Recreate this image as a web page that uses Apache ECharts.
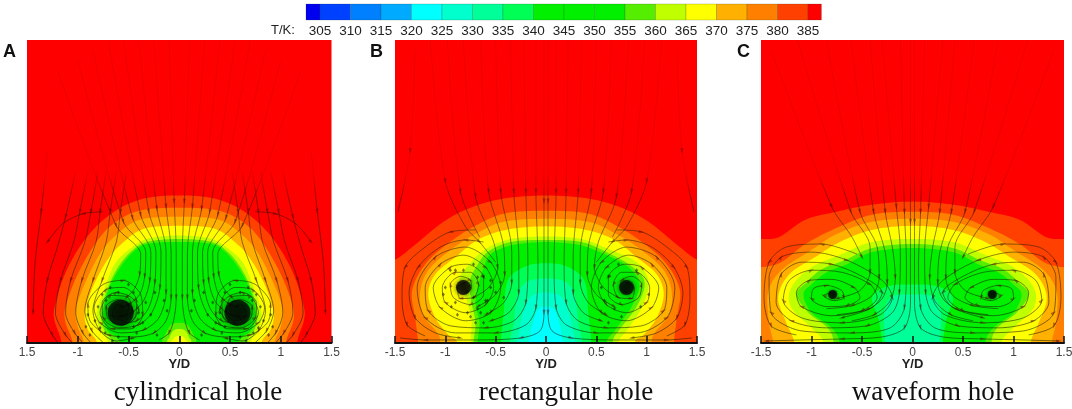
<!DOCTYPE html>
<html><head><meta charset="utf-8">
<style>html,body{margin:0;padding:0;background:#fff}#c{width:1072px;height:409px}</style>
<script src="https://cdn.jsdelivr.net/npm/echarts@6/dist/echarts.min.js"></script></head>
<body><div id="c"></div>
<script>
// ---------- colour bar ----------
const bandLow   = [300,305,310,315,320,325,330,335,340,345,350,355,360,365,370,375,380,385];
const bandColor = ['#0000f0','#0040ff','#0080ff','#00aaff','#00ffff','#00ffcc','#00ff99','#00ff55','#00f000','#00f000','#00f000','#55ee00','#c0ff00','#ffff00','#ffb000','#ff8000','#ff4000','#ff0000'];
const barTicks  = [305,310,315,320,325,330,335,340,345,350,355,360,365,370,375,380,385];
const ticksA = ['1.5','-1','-0.5','0','0.5','1','1.5'];
const ticksB = ['-1.5','-1','-0.5','0','0.5','1','1.5'];
const ticksC = ['-1.5','-1','-0.5','0','0.5','1','1.5'];
const captions = ['cylindrical hole','rectangular hole','waveform hole'];
const letters = ['A','B','C'];

// ---------- contour outlines, Y/D>0 half, top to base, [Y/D, Z/D] ----------
const A_380 = [[0,1.46],[.35,1.43],[.65,1.295],[.91,1.05],[1.11,.72],[1.22,.39],[1.23,.23],[1.16,0]];
const A_375 = [[0,1.34],[.39,1.31],[.65,1.18],[.83,.98],[1.01,.66],[1.12,.36],[1.12,.2],[1.05,0]];
const A_370 = [[0,1.25],[.39,1.22],[.62,1.07],[.78,.885],[.93,.59],[1.02,.33],[1.0,.16],[.94,0]];
const A_365 = [[0,1.16],[.35,1.13],[.57,.98],[.71,.82],[.85,.56],[.93,.3],[.9,.13],[.81,0]];
const A_360 = [[0,1.065],[.32,1.03],[.5,.92],[.63,.79],[.73,.56],[.81,.3],[.78,.13],[.7,0]];
const A_355 = [[0,1.03],[.32,1.0],[.48,.9],[.61,.74],[.71,.53],[.77,.3],[.74,.13],[.66,0]];
const A_350 = [[0,1.0],[.32,.98],[.47,.885],[.6,.72],[.7,.52],[.75,.3],[.71,.13],[.58,0]];
const A_mound355 = [[0,.2],[.08,.18],[.14,.08],[.17,0]];
const A_mound360 = [[0,.14],[.06,.12],[.1,.05],[.12,0]];
const A_mound365 = [[0,.07],[.04,.06],[.07,.02],[.08,0]];
const B_380 = [[0,1.46],[.42,1.43],[.75,1.34],[1.02,1.2],[1.28,.99],[1.5,.825],[1.7,.78],[1.7,0]];
const B_375 = [[0,1.31],[.42,1.28],[.72,1.15],[.98,.98],[1.2,.78],[1.33,.52],[1.3,.25],[1.27,0]];
const B_370 = [[0,1.23],[.42,1.2],[.7,1.08],[.95,.92],[1.17,.72],[1.25,.5],[1.22,.28],[1.08,.1],[1.05,0]];
const B_365 = [[0,1.155],[.4,1.12],[.68,1.02],[.9,.85],[1.1,.68],[1.17,.48],[1.1,.25],[.97,.08],[.88,0]];
const B_360 = [[-.75,0],[-.74,.2],[-.78,.4],[-.86,.62],[-.78,.76],[-.6,.93],[-.35,1.03],[0,1.055],[.35,1.03],[.62,.93],[.9,.8],[1.02,.6],[.95,.35],[.8,.12],[.72,0]];
const B_355 = [[-.72,0],[-.7,.2],[-.74,.4],[-.76,.6],[-.7,.74],[-.58,.9],[-.35,1.0],[0,1.02],[.35,1.0],[.6,.9],[.85,.76],[.98,.6],[.9,.36],[.72,.12],[.66,0]];
const B_350 = [[-.68,0],[-.66,.2],[-.7,.4],[-.66,.62],[-.62,.74],[-.55,.88],[-.33,.97],[0,1.0],[.33,.97],[.58,.88],[.82,.75],[.93,.58],[.85,.36],[.68,.12],[.6,0]];
const B_335 = [[0,.79],[.2,.76],[.38,.62],[.42,.3],[.45,0]];
const B_330 = [[0,.64],[.2,.6],[.29,.45],[.32,.2],[.36,0]];
const B_325 = [[0,.5],[.15,.46],[.23,.3],[.27,.1],[.29,0]];
const B_320 = [[0,.36],[.08,.33],[.13,.2],[.17,0]];
const C_380 = [[0,1.4],[.4,1.37],[.75,1.3],[1.06,1.22],[1.32,1.05],[1.5,1.03],[1.7,1.03],[1.7,0]];
const C_375 = [[0,1.3],[.4,1.27],[.75,1.14],[1.06,.98],[1.3,.8],[1.5,.75],[1.7,.75],[1.7,0]];
const C_370 = [[0,1.23],[.4,1.2],[.75,1.08],[1.0,.92],[1.3,.72],[1.43,.5],[1.42,.2],[1.38,0]];
const C_365 = [[0,1.16],[.4,1.12],[.72,1.0],[.95,.86],[1.22,.68],[1.33,.45],[1.25,.2],[1.17,0]];
const C_360 = [[0,1.03],[.4,1.0],[.7,.88],[1.0,.75],[1.2,.55],[1.2,.35],[1.0,.15],[.88,0]];
const C_355 = [[0,.98],[.4,.94],[.67,.82],[.9,.73],[1.05,.6],[1.15,.48],[1.03,.3],[.84,.15],[.78,0]];
const C_350 = [[0,.94],[.4,.9],[.65,.78],[.85,.7],[1.0,.58],[1.08,.48],[1.0,.3],[.8,.15],[.72,0]];
const C_335 = [[0,.58],[.25,.56],[.4,.45],[.34,.25],[.3,0]];
const C_330 = [[0,.48],[.2,.46],[.28,.3],[.27,0]];

// [band, outline, outline covers only the Y/D>0 half]
const contoursA = [[380,A_380,1],[375,A_375,1],[370,A_370,1],[365,A_365,1],[360,A_360,1],[355,A_355,1],[350,A_350,1],[355,A_mound355,1],[360,A_mound360,1],[365,A_mound365,1]];
const contoursB = [[380,B_380,1],[375,B_375,1],[370,B_370,1],[365,B_365,1],[360,B_360,0],[355,B_355,0],[350,B_350,0],[335,B_335,1],[330,B_330,1],[325,B_325,1],[320,B_320,1]];
const contoursC = [[380,C_380,1],[375,C_375,1],[370,C_370,1],[365,C_365,1],[360,C_360,1],[355,C_355,1],[350,C_350,1],[335,C_335,1],[330,C_330,1]];

// ---------- streamlines, Y/D>0 half ----------
const streamA = [
 [[.1,3],[.05,1.4],[.03,.9],[.03,.45],[.05,.25],[.1,.1],[.2,.03]],
 [[.25,3],[.13,1.35],[.08,.9],[.08,.45],[.13,.22],[.25,.1],[.45,.06],[.7,.08],[.88,.22],[.9,.38],[.75,.58],[.55,.62],[.38,.48],[.36,.28],[.48,.14],[.66,.14],[.78,.3],[.68,.47],[.52,.46],[.46,.32],[.54,.22],[.66,.27],[.62,.38],[.55,.36]],
 [[.4,3],[.22,1.33],[.13,.9],[.13,.5],[.2,.25],[.35,.13],[.58,.1],[.78,.2],[.84,.35],[.72,.53],[.55,.55],[.42,.42],[.43,.26],[.56,.18],[.7,.24],[.72,.36],[.6,.43],[.5,.37],[.52,.27],[.6,.26]],
 [[.55,3],[.3,1.3],[.18,.9],[.19,.55],[.27,.3],[.4,.18],[.6,.15],[.75,.25],[.76,.4],[.62,.5],[.47,.45],[.4,.33],[.48,.2]],
 [[.7,3],[.38,1.27],[.23,.9],[.24,.6],[.3,.35],[.42,.22],[.58,.2]],
 [[.85,2.9],[.46,1.24],[.28,.9],[.29,.62],[.35,.42],[.47,.3],[.58,.27]],
 [[1.0,2.8],[.55,1.2],[.33,.9],[.34,.66],[.39,.48],[.5,.38],[.58,.35]],
 [[1.2,2.7],[.62,1.16],[.38,.88],[.39,.68],[.44,.54],[.52,.45]],
 [[.52,1.7],[.58,1.3],[.62,1.0],[.76,.62],[.85,.32],[.78,.12],[.62,.02],[.45,.05]],
 [[.62,1.7],[.68,1.3],[.72,1.0],[.85,.62],[.93,.32],[.86,.12],[.72,-.02]],
 [[.72,1.7],[.78,1.3],[.82,1.0],[.96,.62],[1.02,.3],[.95,.1],[.82,-.05]],
 [[.8,1.7],[.87,1.3],[.93,1.0],[1.07,.62],[1.12,.3],[1.03,.1],[.9,-.05]],
 [[.9,1.7],[.98,1.3],[1.04,1.0],[1.17,.62],[1.22,.3],[1.12,.08],[1.0,-.05]],
 [[1.02,1.7],[1.12,1.25],[1.2,.95],[1.3,.62],[1.34,.3],[1.25,.08],[1.15,-.05]],
 [[1.3,1.9],[1.36,1.3],[1.42,.8],[1.44,.3]],
 [[.75,1.3],[.95,1.28],[1.15,1.18],[1.3,1.0]]
];
const streamB = [
 [[.02,3],[.02,1.4],[.02,.7],[.02,.3],[.06,.12],[.25,.05],[.7,.03],[1.2,.03],[1.45,.05]],
 [[.1,3],[.1,1.5],[.08,.8],[.1,.35],[.2,.18],[.5,.1],[.9,.1],[1.2,.25],[1.28,.55],[1.1,.85],[.8,.95],[.55,.8],[.45,.55],[.55,.3],[.8,.22],[1.05,.35],[1.12,.55],[.95,.75],[.78,.78],[.62,.65],[.62,.48],[.75,.38],[.92,.45],[.95,.58],[.85,.66],[.75,.62],[.74,.54],[.8,.5]],
 [[.22,3],[.2,1.5],[.18,.8],[.2,.4],[.32,.22],[.6,.15],[.95,.17],[1.17,.32],[1.2,.55],[1.05,.78],[.82,.87],[.6,.75],[.52,.55],[.6,.38],[.8,.3],[1.0,.4],[1.03,.55],[.9,.7],[.75,.7],[.67,.58],[.72,.45],[.85,.44],[.88,.55],[.8,.6]],
 [[.35,3],[.32,1.5],[.27,.85],[.27,.5],[.37,.3],[.55,.22]],
 [[.5,3],[.45,1.5],[.34,.9],[.34,.6],[.42,.4],[.6,.28]],
 [[.65,3],[.57,1.5],[.42,.95],[.41,.68],[.5,.48],[.68,.36]],
 [[.82,3],[.7,1.45],[.52,1.0],[.48,.75],[.57,.55],[.72,.45]],
 [[.98,3],[.85,1.5],[.66,1.05]],
 [[1.15,3],[1.0,1.6],[.8,1.15],[.66,1.0],[.5,.8]],
 [[.62,1.0],[.8,1.02],[1.05,.95],[1.27,.75],[1.36,.5],[1.3,.25],[1.1,.1],[.85,.05]],
 [[.7,1.12],[.95,1.1],[1.2,.95],[1.4,.75],[1.43,.45],[1.38,.18],[1.2,.07]],
 [[1.3,2.9],[1.35,1.9],[1.47,1.3]]
];
const streamC = [
 [[.02,3],[.02,1.2],[.02,.4],[.08,.15],[.3,.06],[.7,.04],[1.1,.03],[1.45,.02]],
 [[.12,3],[.08,1.3],[.06,.8],[.08,.35],[.22,.15],[.6,.1],[1.1,.12],[1.4,.3],[1.42,.65],[1.3,.85],[1.0,.9],[.65,.82],[.3,.62],[.2,.45],[.32,.28],[.7,.2],[1.1,.25],[1.28,.42],[1.22,.62],[1.0,.72],[.7,.7],[.42,.58],[.35,.45],[.5,.32],[.8,.27],[1.1,.36],[1.15,.5],[1.02,.62],[.8,.63],[.58,.55],[.52,.45],[.65,.37],[.85,.36],[1.0,.44],[.98,.54],[.85,.57],[.7,.52],[.68,.45],[.78,.42],[.88,.47],[.8,.5]],
 [[.3,3],[.16,1.35],[.12,.9],[.13,.5],[.2,.3],[.45,.17],[.85,.15],[1.2,.22],[1.35,.4],[1.3,.68],[1.1,.8],[.8,.78],[.5,.66],[.3,.5],[.4,.35],[.7,.25]],
 [[.42,3],[.27,1.3],[.2,.95],[.17,.65],[.22,.42],[.38,.28],[.6,.22]],
 [[.61,3],[.385,1.3],[.27,.9],[.25,.6],[.3,.44],[.45,.33],[.75,.28]],
 [[.85,3],[.52,1.3],[.35,.95],[.33,.65],[.4,.47],[.6,.37],[.85,.34]],
 [[1.14,3],[.61,1.3],[.42,.95],[.42,.7],[.52,.52],[.75,.44]],
 [[1.4,2.9],[.8,1.35],[.6,1.05],[.5,.85]],
 [[.55,.88],[.9,.98],[1.25,.95],[1.42,.8],[1.47,.45],[1.4,.17],[1.15,.08]]
];
// vortex core positions [Y/D, Z/D]
const coresA = [[-.577,.3],[.574,.3]];
const coresB = [[-.82,.55],[.8,.55]];
const coresC = [[-.79,.48],[.79,.48]];
// scattered arrow marks near the vortices, Y/D>0 half
const debrisA = [[.33,.4],[.36,.2],[.42,.1],[.45,.5],[.5,.58],[.68,.55],[.76,.48],[.8,.36],[.83,.22],[.73,.1],[.6,.06],[.28,.28],[.24,.5],[.12,.32],[.15,.42],[.4,.3],[.72,.42],[.78,.15],[.9,.28],[.92,.16],[.88,.08],[.66,.02],[.22,.08],[.6,.5],[.45,.16]];
const debrisB = [[.58,.42],[.62,.66],[.72,.78],[.9,.72],[1.02,.48],[.94,.36],[.75,.26],[.62,.2],[.55,.55],[.68,.34]];
const debrisBLeft = [[-.45,.6],[-.5,.5],[-.6,.42],[-.65,.3],[-.7,.2],[-.72,.45],[-.9,.4],[-1.0,.55],[-.95,.72],[-.82,.72],[-.68,.65],[-.55,.62],[-.42,.45],[-.78,.3],[-.88,.28]];

const mirrorLine = l => l.map(p => [-p[0], p[1]]);
const outline = (pts, half) => {
  const full = half ? pts.slice(1).reverse().map(p => [-p[0], p[1]]).concat(pts) : pts;
  const a = full[0], b = full[full.length-1];
  return [[a[0], -.3]].concat(full, [[b[0], -.3]]);
};
const colorOf = t => bandColor[bandLow.indexOf(t)];
// rendering only: turn pixel vertices into a rounded outline
const rounded = pts => {
  const out = [];
  for (let i = 0; i < pts.length - 1; i++) {
    const p0 = pts[Math.max(i-1,0)], p1 = pts[i], p2 = pts[i+1], p3 = pts[Math.min(i+2,pts.length-1)];
    for (let s = 0; s < 8; s++) {
      const t = s/8, t2 = t*t, t3 = t2*t;
      out.push([0,1].map(k => .5*(2*p1[k]+(p2[k]-p0[k])*t+(2*p0[k]-5*p1[k]+4*p2[k]-p3[k])*t2+(3*p1[k]-p0[k]-3*p2[k]+p3[k])*t3)));
    }
  }
  out.push(pts[pts.length-1]);
  return out;
};

const panels = [
 {left:27, width:304.5, contours:contoursA, stream:streamA, cores:coresA, core:26, ticks:ticksA, debris:debrisA.concat(mirrorLine(debrisA))},
 {left:395,width:302,   contours:contoursB, stream:streamB, cores:coresB, core:15, ticks:ticksB, debris:debrisB.concat(mirrorLine(debrisB),debrisBLeft)},
 {left:761,width:303,   contours:contoursC, stream:streamC, cores:coresC, core:9,  ticks:ticksC, debris:[]}
];

const lineStroke = {type:'linear',x:0,y:40,x2:0,y2:343,global:true,colorStops:[
  {offset:0,color:'rgba(110,0,0,.16)'},{offset:.44,color:'rgba(90,0,0,.2)'},
  {offset:.52,color:'rgba(40,20,0,.7)'},{offset:1,color:'rgba(15,25,0,.8)'}]};
const arrowFill = {type:'linear',x:0,y:40,x2:0,y2:343,global:true,colorStops:[
  {offset:0,color:'rgba(90,0,0,.55)'},{offset:.44,color:'rgba(90,0,0,.6)'},
  {offset:.52,color:'rgba(30,20,0,.85)'},{offset:1,color:'rgba(15,25,0,.9)'}]};

const grids=[], xAxes=[], yAxes=[], series=[], graphic=[];
const captionX=[198,566,933], letterX=[3,370,737];
panels.forEach((p,i)=>{
  grids.push({left:p.left,width:p.width,top:40,height:303,show:true,backgroundColor:colorOf(385),borderWidth:0,outerBoundsMode:'none'});
  xAxes.push({gridIndex:i,type:'value',min:-1.5,max:1.5,interval:.5,z:10,
    name:'Y/D',nameLocation:'middle',nameGap:15,nameMoveOverlap:false,nameTextStyle:{fontFamily:'Liberation Sans',fontWeight:'bold',fontSize:13,color:'#222'},
    axisLine:{show:true,onZero:false,lineStyle:{color:'#111',width:2}},
    axisTick:{show:true,inside:true,length:7,lineStyle:{color:'#111',width:1.5}},
    splitLine:{show:false},
    axisLabel:{margin:4,hideOverlap:false,fontFamily:'Liberation Sans',fontSize:12,color:'#444',showMinLabel:true,showMaxLabel:true,
      formatter:(v)=>p.ticks[Math.round((v+1.5)*2)]}});
  yAxes.push({gridIndex:i,type:'value',min:0,max:3,show:false,splitLine:{show:false}});
  const shapes=p.contours.map(c=>outline(c[1],c[2]));
  series.push({type:'custom',xAxisIndex:i,yAxisIndex:i,z:1,clip:true,silent:true,
    data:p.contours.map(c=>[0,0,c[0]]),
    renderItem:(params,api)=>({type:'polygon',
      shape:{points:rounded(shapes[params.dataIndex].map(q=>api.coord(q)))},
      style:{fill:colorOf(api.value(2))}})});
  const all=p.stream.concat(p.stream.map(mirrorLine));
  const lineData=[]; const arrows=[];
  all.forEach(l=>{
    l.forEach((q,k)=>{
      lineData.push(q);
      if(k>0&&k%2===1&&q[1]>0){const r=l[k-1];arrows.push([q[0],q[1],Math.atan2(-(q[0]-r[0]),(q[1]-r[1]))*180/Math.PI]);}
    });
    lineData.push(['-','-']);
  });
  series.push({type:'line',xAxisIndex:i,yAxisIndex:i,z:2,silent:true,data:lineData,showSymbol:false,smooth:.3,connectNulls:false,
    lineStyle:{color:lineStroke,width:.7}});
  series.push({type:'scatter',xAxisIndex:i,yAxisIndex:i,z:3,silent:true,data:arrows,symbol:'triangle',symbolSize:[3,6],
    symbolRotate:v=>v[2],itemStyle:{color:arrowFill}});
  if(p.debris.length) series.push({type:'scatter',xAxisIndex:i,yAxisIndex:i,z:3,silent:true,data:p.debris,symbol:'diamond',symbolSize:[3,4],itemStyle:{color:'rgba(20,20,0,.7)'}});
  series.push({type:'scatter',xAxisIndex:i,yAxisIndex:i,z:4,silent:true,data:p.cores,symbolSize:p.core,itemStyle:{color:'#050505',shadowBlur:p.core/3,shadowColor:'rgba(0,0,0,.8)'}});
  graphic.push({type:'text',x:captionX[i],y:393,silent:true,style:{text:captions[i],align:'center',verticalAlign:'middle',font:'27px "Liberation Serif"',fill:'#111'}});
  graphic.push({type:'text',x:letterX[i],y:43,silent:true,style:{text:letters[i],font:'bold 18px "Liberation Sans"',fill:'#111'}});
});

// colour bar grid
grids.push({left:289.5,width:549,top:4,height:16,outerBoundsMode:'none'});
xAxes.push({gridIndex:3,type:'value',min:300,max:390,interval:5,axisLine:{show:false},axisTick:{show:false},splitLine:{show:false},
  axisLabel:{margin:4,fontFamily:'Liberation Sans',fontSize:13.5,color:'#222',showMinLabel:true,showMaxLabel:true,
    formatter:v=>barTicks.includes(v)?String(v):''}});
yAxes.push({gridIndex:3,type:'value',min:0,max:1,show:false});
const barLo=302.7, barHi=387.2;
series.push({type:'custom',xAxisIndex:3,yAxisIndex:3,z:2,silent:true,
  data:bandLow.map((t,k)=>[Math.max(t,barLo),Math.min(t+5,barHi),k]),
  renderItem:(params,api)=>{
    const a=api.coord([api.value(0),1]), b=api.coord([api.value(1),0]);
    return {type:'rect',shape:{x:a[0],y:a[1],width:b[0]-a[0],height:b[1]-a[1]},style:{fill:bandColor[api.value(2)],stroke:'rgba(30,60,30,.35)',lineWidth:.6}};
  }});
graphic.push({type:'text',x:271,y:24,silent:true,style:{text:'T/K:',font:'13px "Liberation Sans"',fill:'#222'}});

const chart=echarts.init(document.getElementById('c'),null,{renderer:'canvas'});
chart.setOption({animation:false,backgroundColor:'#fff',grid:grids,xAxis:xAxes,yAxis:yAxes,series,graphic});
</script></body></html>
